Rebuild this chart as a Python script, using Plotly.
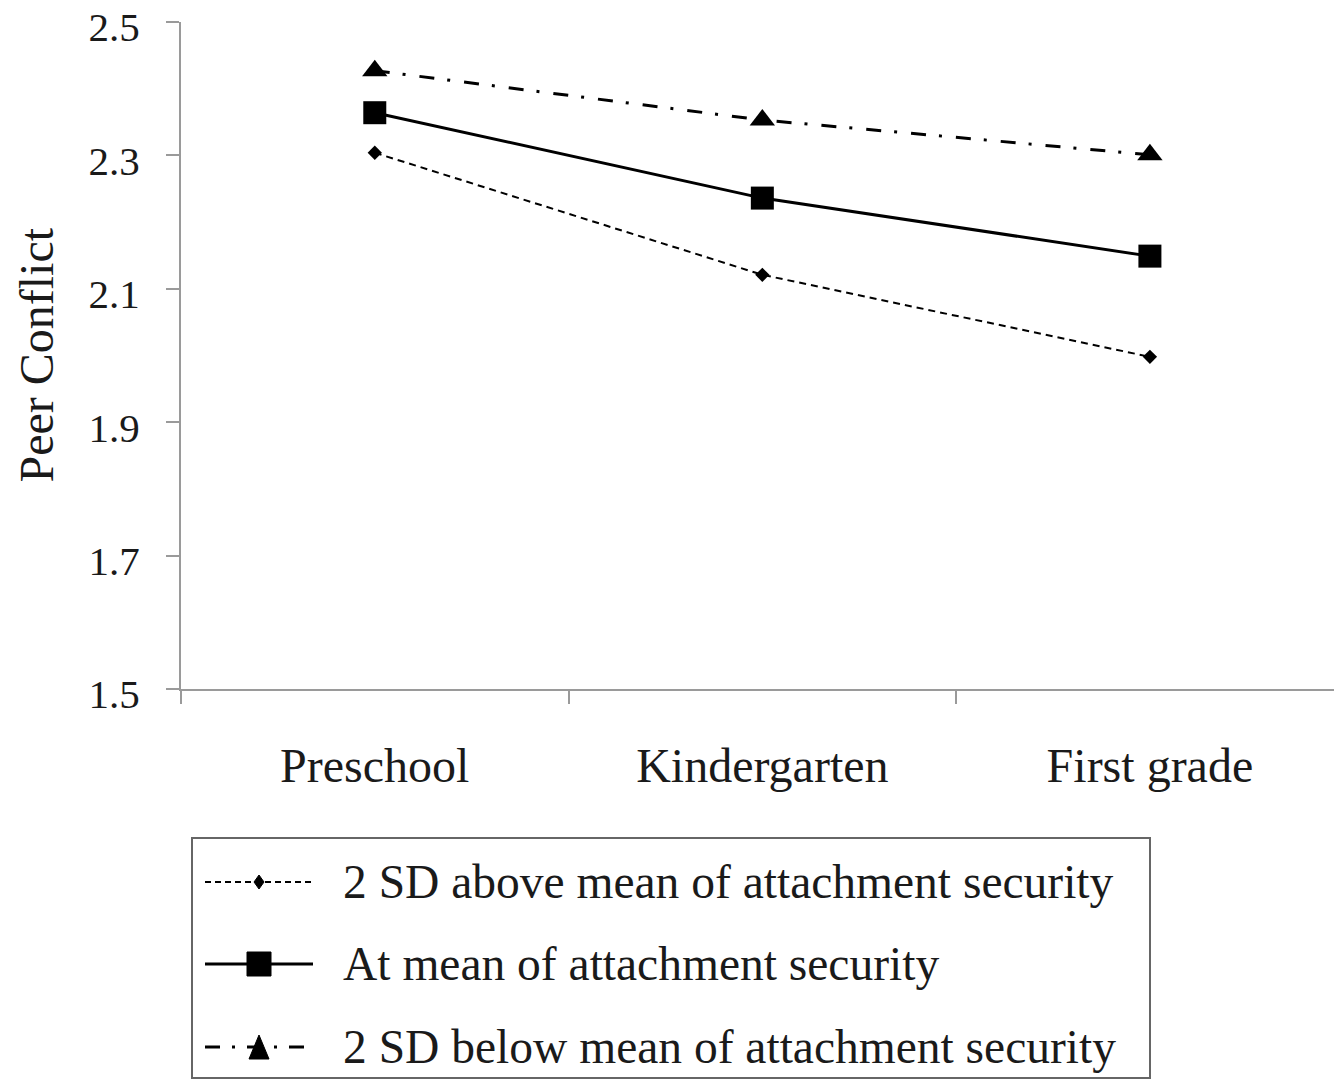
import plotly.graph_objects as go

# ---- data ----
grades = ["Preschool", "Kindergarten", "First grade"]
above_mean = [2.304, 2.121, 1.998]
at_mean = [2.364, 2.236, 2.149]
below_mean = [2.427, 2.353, 2.301]
series_names = [
    "2 SD above mean of attachment security",
    "At mean of attachment security",
    "2 SD below mean of attachment security",
]
y_ticks = [1.5, 1.7, 1.9, 2.1, 2.3, 2.5]
y_title = "Peer Conflict"

FONT = "Liberation Serif"
TXT = "#1a1a1a"
AX = "#9a9a9a"

# the page body margin is removed (post_script), so the figure sits at (0,0)
W, H = 1334, 1080
PL, PT, PB = 181, 22, 689          # plot area in pixels
L, T = PL, PT
B = H - PB


def px_x(p):
    return (p - PL) / (W - PL)


def px_y(p):
    return (PB - p) / (PB - PT)


styles = [
    dict(dash="7px,5px", width=2, symbol="diamond", size=11),
    dict(dash="solid", width=3, symbol="square", size=23),
    dict(dash="15px,13px,3px,14px", width=3, symbol="triangle-up", size=22),
]

fig = go.Figure()
for name, vals, st in zip(series_names, [above_mean, at_mean, below_mean], styles):
    fig.add_trace(go.Scatter(
        x=grades, y=vals, name=name, mode="lines+markers",
        line=dict(color="black", width=st["width"], dash=st["dash"]),
        marker=dict(symbol=st["symbol"], size=st["size"], color="black"),
        showlegend=False,
    ))

fig.update_layout(
    width=W, height=H,
    margin=dict(l=L, r=0, t=T, b=B, pad=0, autoexpand=False),
    paper_bgcolor="white", plot_bgcolor="white",
    font=dict(family=FONT, color=TXT),
    xaxis=dict(
        type="category", range=[-0.5, 2.475], tickson="boundaries",
        showline=True, linecolor=AX, linewidth=2,
        ticks="outside", ticklen=13, tickwidth=2, tickcolor=AX,
        showgrid=False, zeroline=False, automargin=False,
        tickfont=dict(size=48, family=FONT, color=TXT),
        ticklabelstandoff=33,
        ticklabeloverflow="allow",
    ),
    yaxis=dict(
        range=[1.5, 2.5], tickvals=y_ticks, ticktext=[f"{v:.1f}" for v in y_ticks],
        showline=True, linecolor=AX, linewidth=2,
        ticks="outside", ticklen=13, tickwidth=2, tickcolor=AX,
        showgrid=False, zeroline=False, automargin=False,
        tickfont=dict(size=41, family=FONT, color=TXT),
        ticklabelstandoff=18,
        ticklabelshift=5,
        ticklabeloverflow="allow",
    ),
)

# y-axis title
fig.add_annotation(
    text=y_title, xref="paper", yref="paper", x=px_x(36), y=0.5,
    textangle=-90, showarrow=False, xanchor="center", yanchor="middle",
    font=dict(size=48, family=FONT, color=TXT),
)

# ---- manual legend ----
shapes = []
shapes.append(dict(type="rect", xref="paper", yref="paper",
                   x0=px_x(192), x1=px_x(1150), y0=px_y(838), y1=px_y(1078),
                   line=dict(color="#666666", width=2), fillcolor="rgba(0,0,0,0)"))
rows = [882, 964, 1047]
leg_dash = ["6px,4px", "solid", "15px,12px,3px,12px"]
for i, (row, st) in enumerate(zip(rows, styles)):
    shapes.append(dict(type="line", xref="paper", yref="paper",
                       x0=px_x(205), x1=px_x(313), y0=px_y(row), y1=px_y(row),
                       line=dict(color="black", width=st["width"], dash=leg_dash[i])))
    if st["symbol"] == "square":
        path = "M -12,-12 L 12,-12 L 12,12 L -12,12 Z"
    elif st["symbol"] == "diamond":
        path = "M -5,0 L 0,7 L 5,0 L 0,-7 Z"
    else:
        path = "M -10,-12 L 10,-12 L 0,12 Z"
    shapes.append(dict(type="path", xref="paper", yref="paper",
                       xsizemode="pixel", ysizemode="pixel",
                       xanchor=px_x(259), yanchor=px_y(row), path=path,
                       fillcolor="black", line=dict(color="black", width=1)))
    fig.add_annotation(
        text=series_names[i], xref="paper", yref="paper",
        x=px_x(341), y=px_y(row), xanchor="left", yanchor="middle",
        showarrow=False, font=dict(size=47.5, family=FONT, color=TXT),
    )
fig.update_layout(shapes=shapes)

fig.write_html(
    "out.html",
    config={"displayModeBar": False},
    post_script="document.body.style.margin='0';document.body.style.overflow='hidden';",
)
